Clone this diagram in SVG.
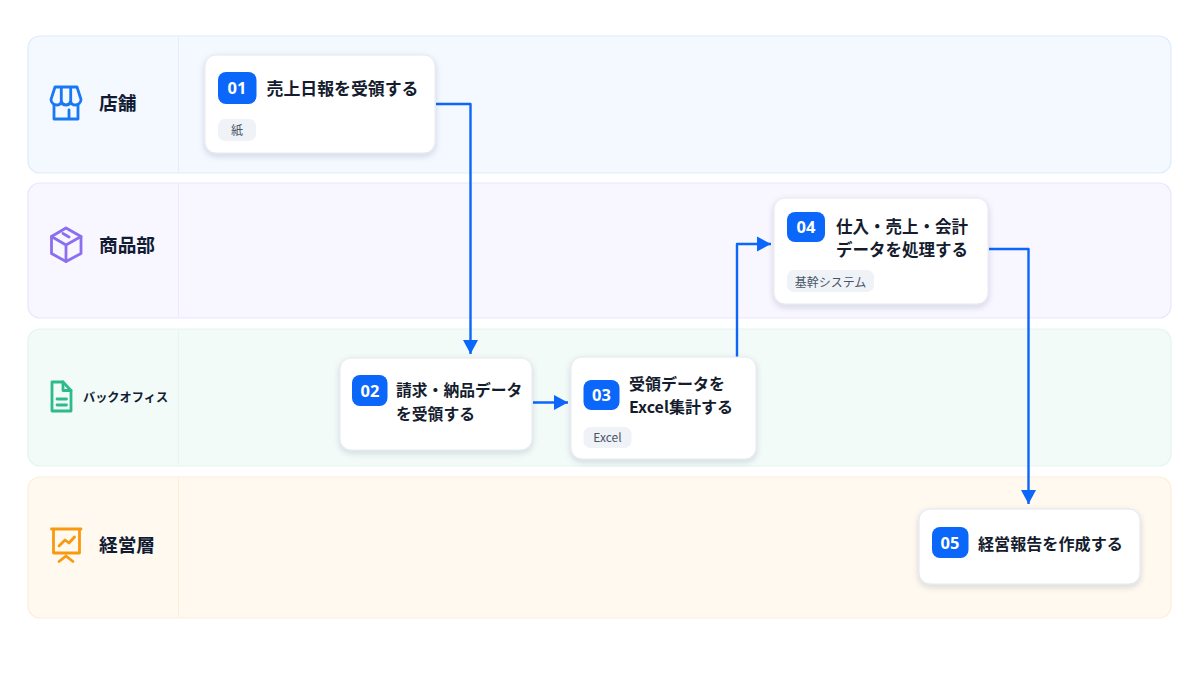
<svg xmlns="http://www.w3.org/2000/svg" width="1200" height="675" viewBox="0 0 1200 675">
<style>
text{font-family:"Noto Sans CJK JP","Noto Sans",sans-serif}
.lane{stroke-width:1.2}
.div{stroke-width:1;fill:none}
.lt{font-size:18.700px;font-weight:700;fill:#111c33}
.node{fill:#fff;stroke:#e4e8f0;stroke-width:1;filter:url(#sh)}
.badge{fill:#0b66fa}
.bt{font-size:16.500px;font-weight:700;fill:#fff;text-anchor:middle;font-family:"Noto Sans","Noto Sans CJK JP",sans-serif}
.nt{font-weight:700;fill:#141c2e}
.tag{fill:#eff2f6}
.tt{font-size:12px;font-weight:400;fill:#4a5568;text-anchor:middle}
.ic{fill:none;stroke-width:2.8;stroke-linecap:round;stroke-linejoin:round}
.con{fill:none;stroke:#0b66fa;stroke-width:2.400;stroke-linejoin:round}
</style>
<defs>
<filter id="sh" x="-10%" y="-15%" width="120%" height="135%"><feDropShadow dx="0" dy="2.500" stdDeviation="3" flood-color="#1e2d50" flood-opacity="0.16"/></filter>
<marker id="ah" markerUnits="userSpaceOnUse" markerWidth="16" markerHeight="16" refX="14" refY="8" orient="auto"><path d="M0 0.500L14 8L0 15.500Z" fill="#0b66fa"/></marker>
</defs>
<rect width="1200" height="675" fill="#fff"/>
<g id="lanes">
<g id="lane-store"><rect class="lane" x="28" y="36" width="1143" height="137" rx="12" fill="#f4f8ff" stroke="#dfebfb"/><path class="div" d="M178.500 37V172" stroke="#e4eefb"/>
<g class="ic" stroke="#1a78f5"><path d="M55 87H77L81 99.500C81 103 78 105 75.500 105C73 105 71 103.500 70.700 101.500C70 104 68 105 66 105C64 105 62 104 61.300 101.500C61 103.500 59 105 56.500 105C54 105 51 103 51 99.500Z"/><path d="M61.300 88V101M70.700 88V101M54 105V119H78V105M69 119V110"/></g>
<text class="lt" x="99" y="110">店舗</text></g>
<g id="lane-goods"><rect class="lane" x="28" y="183" width="1143" height="135" rx="12" fill="#f8f6ff" stroke="#ebe5fc"/><path class="div" d="M178.500 184V317" stroke="#ede8fb"/>
<g class="ic" stroke="#8b6ff0"><path d="M66 228L81 236.500V253.500L66 261.500L51.500 253.500V236.500Z"/><path d="M51.500 236.500L66 245L81 236.500M66 245V261.500M63 233.500L69 237"/></g>
<text class="lt" x="99" y="252">商品部</text></g>
<g id="lane-back"><rect class="lane" x="28" y="329" width="1143" height="137" rx="12" fill="#f3fbf8" stroke="#e3f5ee"/><path class="div" d="M178.500 330V465" stroke="#e7f5f0"/>
<g class="ic" stroke="#2dbb8a"><path d="M52 382H63L71 390.500V411H52Z"/><path d="M63 382V390.500H71M57 399H66.500M57 405H66.500"/></g>
<text x="83" y="402" style="font-size:12.200px;font-weight:700;fill:#111c33">バックオフィス</text></g>
<g id="lane-mgmt"><rect class="lane" x="28" y="477" width="1143" height="141" rx="12" fill="#fff9f0" stroke="#fdeed8"/><path class="div" d="M178.500 478V617" stroke="#fbefdc"/>
<g class="ic" stroke="#f8990f"><path d="M51.500 529H81M53.500 529V553H79.500V529M59 561.500L66 556L73 561.500M59 546L65 540L69 543L74.500 537"/></g>
<text class="lt" x="99" y="552">経営層</text></g>
</g>
<g id="connectors">
<path class="con" d="M436 104H470.500V354" marker-end="url(#ah)"/>
<path class="con" d="M533 402.500H568" marker-end="url(#ah)"/>
<path class="con" d="M737 357V244H771" marker-end="url(#ah)"/>
<path class="con" d="M989 249H1028.500V504" marker-end="url(#ah)"/>
</g>
<g id="n01"><rect class="node" x="205" y="55" width="230" height="98" rx="11"/><rect class="badge" x="218" y="72" width="38.500" height="32" rx="8"/><text class="bt" x="237" y="93.500">01</text><text class="nt" style="font-size:16.900px" x="266.500" y="95">売上日報を受領する</text><rect class="tag" x="218" y="119" width="38" height="22" rx="7"/><text class="tt" x="237" y="134.500">紙</text></g>
<g id="n02"><rect class="node" x="340" y="358" width="192" height="92" rx="11"/><rect class="badge" x="352" y="375" width="35.500" height="31" rx="8"/><text class="bt" x="370" y="396.500">02</text><text class="nt" style="font-size:15.800px" x="396" y="396">請求・納品データ</text><text class="nt" style="font-size:15.800px" x="396" y="420">を受領する</text></g>
<g id="n03"><rect class="node" x="571" y="357" width="185" height="102" rx="11"/><rect class="badge" x="583.500" y="380" width="36" height="30" rx="8"/><text class="bt" x="601.500" y="401">03</text><text class="nt" style="font-size:16px" x="629" y="390">受領データを</text><text class="nt" style="font-size:16px" x="629" y="413">Excel集計する</text><rect class="tag" x="583.500" y="427" width="48" height="21" rx="7"/><text class="tt" x="607.500" y="442">Excel</text></g>
<g id="n04"><rect class="node" x="774" y="198" width="214" height="106" rx="11"/><rect class="badge" x="787" y="212" width="38" height="30" rx="8"/><text class="bt" x="806" y="233">04</text><text class="nt" style="font-size:16.500px" x="836" y="233">仕入・売上・会計</text><text class="nt" style="font-size:16.500px" x="836" y="256">データを処理する</text><rect class="tag" x="787" y="270" width="87" height="22" rx="7"/><text class="tt" x="830.500" y="286.500">基幹システム</text></g>
<g id="n05"><rect class="node" x="919" y="509" width="221" height="75" rx="11" style="stroke:#dfe6f5"/><rect class="badge" x="932" y="527" width="36.500" height="31" rx="8"/><text class="bt" x="950" y="548.500">05</text><text class="nt" style="font-size:16.100px" x="978" y="550">経営報告を作成する</text></g>
</svg>
